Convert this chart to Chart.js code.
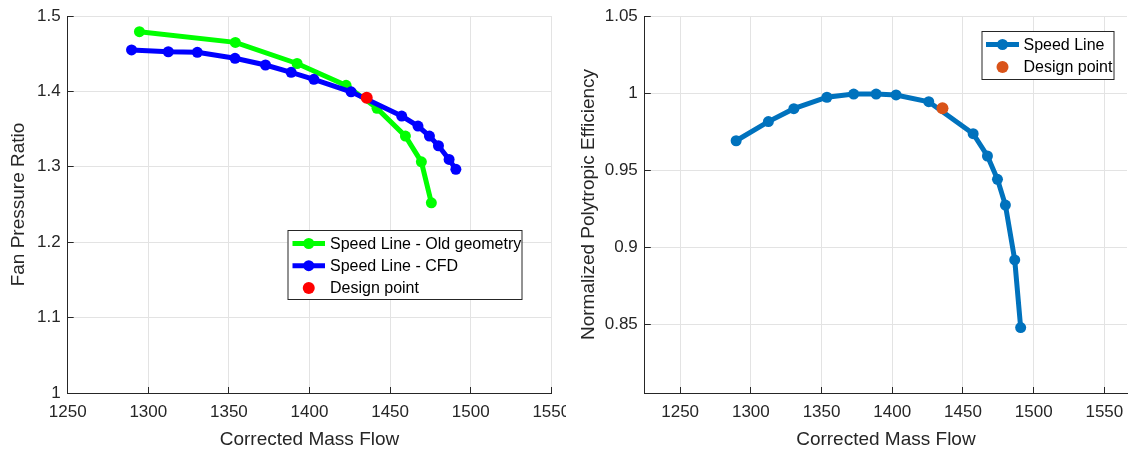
<!DOCTYPE html>
<html lang="en">
<head>
    <meta charset="UTF-8">
    <title>Fan Speed Line</title>
    <script src="https://cdn.jsdelivr.net/npm/chart.js"></script>
    <style>
        body { margin: 0; background: #fff; }
        canvas { position: absolute; top: 0; }
        #pressureChart { left: 0; }
        #efficiencyChart { left: 566px; }
    </style>
</head>
<body>
    <canvas id="pressureChart" width="566" height="453"></canvas>
    <canvas id="efficiencyChart" width="567" height="453"></canvas>

    <script>
        // speed line data
        const massFlowCFD = [1289.6, 1312.4, 1330.4, 1353.8, 1372.7, 1388.6, 1402.7, 1425.8, 1457.2, 1467.3, 1474.4, 1480.0, 1486.6, 1490.8];
        const pressureRatioCFD = [1.455, 1.4526, 1.4518, 1.4439, 1.435, 1.4253, 1.416, 1.3995, 1.3673, 1.354, 1.3407, 1.3279, 1.3098, 1.2966];
        const efficiencyCFD = [0.9691, 0.9815, 0.9899, 0.9973, 0.9994, 0.9994, 0.9988, 0.9944, 0.9737, 0.9592, 0.9441, 0.9274, 0.8918, 0.8479];
        const massFlowOld = [1294.5, 1354.0, 1392.3, 1422.7, 1441.9, 1459.5, 1469.4, 1475.6];
        const pressureRatioOld = [1.4792, 1.465, 1.437, 1.408, 1.3775, 1.3407, 1.3066, 1.2522];
        const designMassFlow = [1435.5];
        const designPressureRatio = [1.3916];
        const designEfficiency = [0.9901];

        // axis ticks
        const massFlowTicks = [1250, 1300, 1350, 1400, 1450, 1500, 1550];
        const pressureTicks = [1, 1.1, 1.2, 1.3, 1.4, 1.5];
        const efficiencyTicks = [0.85, 0.9, 0.95, 1, 1.05];

        const FONT = 'Liberation Sans, Arial, Helvetica, sans-serif';
        const AXIS = '#262626';
        const GRID = '#e3e3e3';

        const toPoints = (xs, ys) => xs.map((x, i) => ({ x: x, y: ys[i] }));

        // MATLAB style legend box with line samples
        const legendBox = {
            id: 'legendBox',
            afterDraw(chart, args, opts) {
                const ctx = chart.ctx;
                ctx.save();
                ctx.fillStyle = '#fff';
                ctx.fillRect(opts.x, opts.y, opts.w, opts.h);
                ctx.strokeStyle = AXIS;
                ctx.lineWidth = 1;
                ctx.strokeRect(opts.x + 0.5, opts.y + 0.5, opts.w, opts.h);
                ctx.font = '16px ' + FONT;
                ctx.textBaseline = 'middle';
                chart.data.datasets.forEach((ds, i) => {
                    const cy = opts.y + 13.5 + i * opts.gap;
                    const x0 = opts.x + opts.lineStart;
                    const x1 = opts.x + opts.lineEnd;
                    if (ds.showLine !== false) {
                        ctx.strokeStyle = ds.borderColor;
                        ctx.lineWidth = ds.borderWidth;
                        ctx.beginPath();
                        ctx.moveTo(x0, cy);
                        ctx.lineTo(x1, cy);
                        ctx.stroke();
                    }
                    ctx.fillStyle = ds.pointBackgroundColor;
                    ctx.beginPath();
                    ctx.arc((x0 + x1) / 2, cy, ds.pointRadius, 0, Math.PI * 2);
                    ctx.fill();
                    ctx.fillStyle = '#000';
                    ctx.fillText(ds.label, opts.x + opts.textStart, cy + 1);
                });
                ctx.restore();
            }
        };

        function xScale(min, max) {
            return {
                type: 'linear',
                min: min,
                max: max,
                afterBuildTicks: s => { s.ticks = massFlowTicks.map(v => ({ value: v })); },
                afterFit: s => { s.height = 60; s.paddingLeft = 0; s.paddingRight = 0; },
                grid: { color: GRID, tickLength: -6, tickColor: AXIS },
                border: { color: AXIS, width: 1 },
                ticks: { padding: 15, color: AXIS, font: { family: FONT, size: 17 }, callback: v => String(v) },
                title: { display: true, text: 'Corrected Mass Flow', color: AXIS, font: { family: FONT, size: 19 }, padding: { top: 0, bottom: 2 } }
            };
        }

        function yScale(min, max, ticks, width, title, titlePad) {
            return {
                type: 'linear',
                min: min,
                max: max,
                afterBuildTicks: s => { s.ticks = ticks.map(v => ({ value: v })); },
                afterFit: s => { s.width = width; s.paddingTop = 0; s.paddingBottom = 0; },
                grid: { color: GRID, tickLength: -6, tickColor: AXIS },
                border: { color: AXIS, width: 1 },
                ticks: { padding: 13, color: AXIS, font: { family: FONT, size: 17 }, callback: v => String(v) },
                title: { display: true, text: title, color: AXIS, font: { family: FONT, size: 19 }, padding: { top: titlePad, bottom: 0 } }
            };
        }

        const common = {
            responsive: false,
            animation: false,
            devicePixelRatio: 1,
            plugins: { legend: { display: false }, tooltip: { enabled: false } }
        };

        // Fan pressure ratio vs mass flow
        new Chart(document.getElementById('pressureChart'), {
            type: 'scatter',
            data: {
                datasets: [{
                    label: 'Speed Line - Old geometry',
                    data: toPoints(massFlowOld, pressureRatioOld),
                    order: 2,
                    showLine: true,
                    borderColor: '#00ff00',
                    borderWidth: 5,
                    pointBackgroundColor: '#00ff00',
                    pointBorderWidth: 0,
                    pointRadius: 5.5
                }, {
                    label: 'Speed Line - CFD',
                    data: toPoints(massFlowCFD, pressureRatioCFD),
                    order: 1,
                    showLine: true,
                    borderColor: '#0000ff',
                    borderWidth: 5,
                    pointBackgroundColor: '#0000ff',
                    pointBorderWidth: 0,
                    pointRadius: 5.5
                }, {
                    label: 'Design point',
                    data: toPoints(designMassFlow, designPressureRatio),
                    order: 0,
                    showLine: false,
                    borderColor: '#ff0000',
                    pointBackgroundColor: '#ff0000',
                    pointBorderWidth: 0,
                    pointRadius: 6
                }]
            },
            options: {
                ...common,
                layout: { padding: { top: 16, right: 14.7, left: 0, bottom: 0 } },
                scales: {
                    x: xScale(1250, 1550),
                    y: yScale(1, 1.5, pressureTicks, 67.7, 'Fan Pressure Ratio', 7.6)
                },
                plugins: {
                    ...common.plugins,
                    legendBox: { x: 287.5, y: 230, w: 234, h: 69, gap: 22.2, lineStart: 5, lineEnd: 37.5, textStart: 42.5 }
                }
            },
            plugins: [legendBox]
        });

        // Normalized polytropic efficiency vs mass flow
        new Chart(document.getElementById('efficiencyChart'), {
            type: 'scatter',
            data: {
                datasets: [{
                    label: 'Speed Line',
                    data: toPoints(massFlowCFD, efficiencyCFD),
                    order: 1,
                    showLine: true,
                    borderColor: '#0072bd',
                    borderWidth: 5,
                    pointBackgroundColor: '#0072bd',
                    pointBorderWidth: 0,
                    pointRadius: 5.5
                }, {
                    label: 'Design point',
                    data: toPoints(designMassFlow, designEfficiency),
                    order: 0,
                    showLine: false,
                    borderColor: '#d95319',
                    pointBackgroundColor: '#d95319',
                    pointBorderWidth: 0,
                    pointRadius: 6
                }]
            },
            options: {
                ...common,
                layout: { padding: { top: 16, right: 4, left: 0, bottom: 0 } },
                scales: {
                    x: xScale(1225, 1566),
                    y: yScale(0.8055, 1.05, efficiencyTicks, 78.8, 'Normalized Polytropic Efficiency', 10.9)
                },
                plugins: {
                    ...common.plugins,
                    legendBox: { x: 415.5, y: 31, w: 132, h: 48, gap: 22.4, lineStart: 4.5, lineEnd: 37.5, textStart: 42 }
                }
            },
            plugins: [legendBox]
        });
    </script>
</body>
</html>
